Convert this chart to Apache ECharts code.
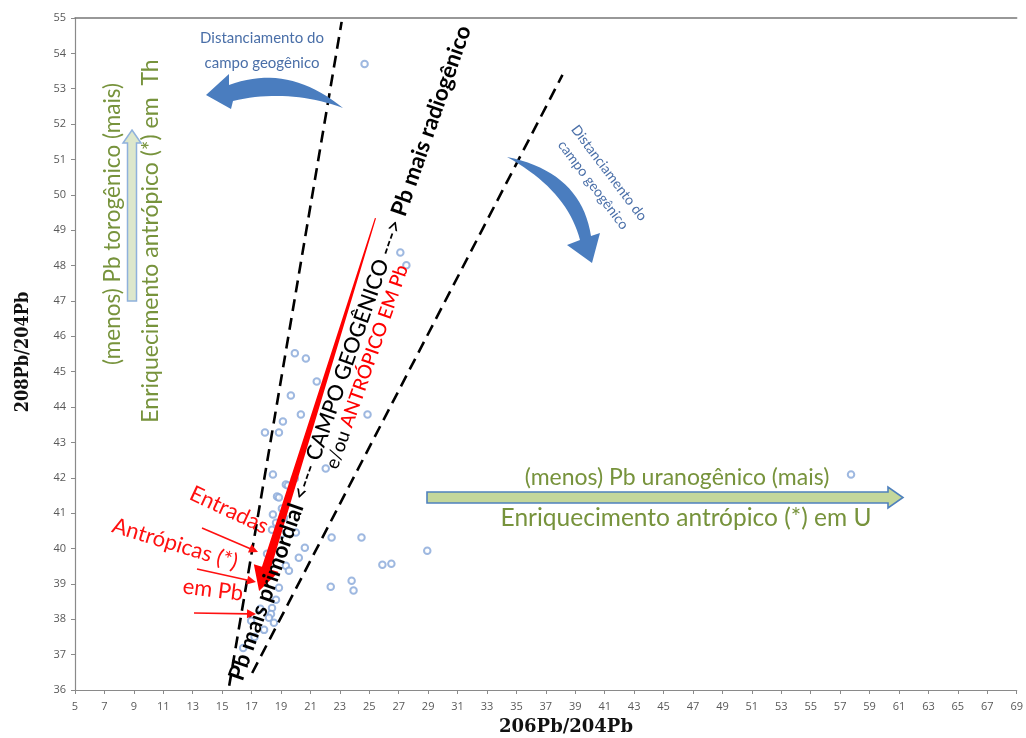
<!DOCTYPE html>
<html>
<head>
<meta charset="utf-8">
<script src="https://cdn.jsdelivr.net/npm/echarts@6/dist/echarts.min.js"></script>
<style>
html,body{margin:0;padding:0;background:#fff;}
#chart{width:1026px;height:738px;}
</style>
</head>
<body>
<div id="chart"></div>
<script>
// ---- data ----
const xTickMin = 5, xTickMax = 69, xTickStep = 2;
const yTickMin = 36, yTickMax = 55, yTickStep = 1;

// 206Pb/204Pb , 208Pb/204Pb samples
const samples = [
  [24.68,53.70],[27.11,48.37],[27.52,48.01],[19.94,45.52],[20.69,45.37],
  [21.43,44.72],[24.88,43.79],[19.67,44.33],[20.35,43.79],[19.13,43.59],
  [17.91,43.28],[18.86,43.28],[22.04,42.26],[18.45,42.09],[19.94,41.98],
  [19.33,41.81],[19.47,41.78],[18.73,41.47],[18.86,41.44],[19.06,41.13],
  [18.45,40.96],[19.20,40.87],[18.66,40.73],[18.39,40.53],[20.01,40.45],
  [19.06,40.42],[22.44,40.31],[24.47,40.31],[20.62,40.02],[18.05,39.85],
  [20.21,39.74],[18.25,39.71],[19.33,39.51],[19.54,39.37],[25.89,39.54],
  [26.50,39.57],[28.94,39.94],[23.80,39.09],[23.93,38.81],[22.38,38.92],
  [18.86,38.89],[18.66,38.55],[18.39,38.32],[18.32,38.15],[18.18,38.04],
  [18.52,37.90],[17.85,37.70],[16.97,37.96],[16.43,37.19],[57.74,42.09],
  [18.10,39.20],[17.60,38.30],[17.20,37.50]
];
// geogenic field boundaries (dashed)
const boundLeft  = [[15.48,36.12],[23.12,54.89]];
const boundRight = [[17.04,36.48],[38.13,53.39]];
// anthropic trend arrow: [x0,y0,x1,y1] (tail -> tip)
const redTrend = [[25.42,49.34,17.51,38.80]];

// ---- helpers ----
const FONT = 'Lato, "Open Sans", sans-serif';
function qbez(a, c, b, n) {
  const pts = [];
  for (let i = 0; i <= n; i++) {
    const t = i / n, u = 1 - t;
    pts.push([u*u*a[0] + 2*u*t*c[0] + t*t*b[0], u*u*a[1] + 2*u*t*c[1] + t*t*b[1]]);
  }
  return pts;
}
function thinArrow(x0, y0, x1, y1) {
  const dx = x1 - x0, dy = y1 - y0, L = Math.hypot(dx, dy);
  const ux = dx / L, uy = dy / L, nx = -uy, ny = ux;
  const hl = 9, hw = 4.5;
  const bx = x1 - ux*hl, by = y1 - uy*hl;
  return [
    {type:'line', shape:{x1:x0,y1:y0,x2:bx+ux*2,y2:by+uy*2}, style:{stroke:'#ff1010', lineWidth:1.6}, z:20},
    {type:'polygon', shape:{points:[[x1,y1],[bx+nx*hw,by+ny*hw],[bx-nx*hw,by-ny*hw]]}, style:{fill:'#ff1010'}, z:20}
  ];
}
const deg = Math.PI / 180;

// blue curved arrows (annotation shapes, pixel space)
const leftBlue = [].concat(
  [[206,95],[229,74],[229,85]],
  qbez([229,85],[288,63],[343,108],20).slice(1),
  qbez([343,108],[288,88],[233,101],20).slice(1),
  [[231,109]]
);
const rightBlue = [].concat(
  qbez([507,157],[581,172],[591,236],20),
  [[600,233],[592,263],[567,245]],
  qbez([580,240],[567,190],[507,157],20).slice(0,-1)
);

const graphics = [
  // top-left note
  {type:'text', x:262, y:51, style:{text:'Distanciamento do\ncampo geogênico', fill:'#4a6fa8', font:'15px ' + FONT, align:'center', verticalAlign:'middle', lineHeight:25}, z:10},
  {type:'polygon', shape:{points:leftBlue}, style:{fill:'#4a7dbf'}, z:10},
  // right note
  {type:'text', x:601, y:179, rotation:-53*deg, style:{text:'Distanciamento do\ncampo geogênico', fill:'#4a6fa8', font:'14px ' + FONT, align:'center', verticalAlign:'middle', lineHeight:20}, z:10},
  {type:'polygon', shape:{points:rightBlue}, style:{fill:'#4a7dbf'}, z:10},
  // main diagonal caption
  {type:'text', x:350, y:353, rotation:70.7*deg, style:{
      text:'{b|Pb mais primordial} <--- CAMPO GEOGÊNICO ---> {b|Pb mais radiogênico}',
      fill:'#000', font:'500 21.5px ' + FONT, align:'center', verticalAlign:'middle',
      rich:{b:{fontWeight:'bold', fontSize:22.5, fontFamily:FONT, fill:'#000'}}
    }, z:15},
  {type:'text', x:367, y:367, rotation:70.7*deg, style:{
      text:'e/ou {r|ANTRÓPICO EM Pb}',
      fill:'#000', font:'19px ' + FONT, align:'center', verticalAlign:'middle',
      rich:{r:{fill:'#ff0000', fontSize:19, fontWeight:500, fontFamily:FONT}}
    }, z:15},
  // left vertical (thorogenic)
  {type:'text', x:113, y:224, rotation:90*deg, style:{text:'(menos) Pb torogênico (mais)', fill:'#77933c', font:'22.5px ' + FONT, align:'center', verticalAlign:'middle'}, z:10},
  {type:'text', x:151, y:241, rotation:90*deg, style:{text:'Enriquecimento antrópico (*) em  Th', fill:'#77933c', font:'23px ' + FONT, align:'center', verticalAlign:'middle'}, z:10},
  {type:'polygon', shape:{points:[[132,130],[141,143],[136.5,143],[136.5,301],[127.5,301],[127.5,143],[123,143]]}, style:{fill:'#dde7cc', stroke:'#8fb1dc', lineWidth:1.5}, z:9},
  // horizontal (uranogenic)
  {type:'text', x:677, y:478, style:{text:'(menos) Pb uranogênico (mais)', fill:'#77933c', font:'23px ' + FONT, align:'center', verticalAlign:'middle'}, z:10},
  {type:'text', x:686, y:518, style:{text:'Enriquecimento antrópico (*) em U', fill:'#77933c', font:'24.5px ' + FONT, align:'center', verticalAlign:'middle'}, z:10},
  {type:'polygon', shape:{points:[[427,492],[888,492],[888,487],[903,497.5],[888,508],[888,503],[427,503]]}, style:{fill:'#c4d79b', stroke:'#4f81bd', lineWidth:1.6}, z:9},
  // red inputs
  {type:'text', x:229, y:510, rotation:-25*deg, style:{text:'Entradas', fill:'#ff1010', font:'22px ' + FONT, align:'center', verticalAlign:'middle'}, z:20},
  {type:'text', x:175, y:544, rotation:-17*deg, style:{text:'Antrópicas (*)', fill:'#ff1010', font:'22px ' + FONT, align:'center', verticalAlign:'middle'}, z:20},
  {type:'text', x:213, y:590, rotation:-7*deg, style:{text:'em Pb', fill:'#ff1010', font:'22px ' + FONT, align:'center', verticalAlign:'middle'}, z:20},
  // axis titles
  {type:'text', x:566, y:727, style:{text:'206Pb/204Pb', fill:'#111', font:'bold 18px "DejaVu Serif", serif', align:'center', verticalAlign:'middle'}, z:10},
  {type:'text', x:23, y:352, rotation:90*deg, style:{text:'208Pb/204Pb', fill:'#111', font:'bold 18px "DejaVu Serif Condensed", "DejaVu Serif", serif', align:'center', verticalAlign:'middle'}, z:10}
].concat(
  thinArrow(202,528,258,552),
  thinArrow(197,569,256,582),
  thinArrow(194,613,256,614)
);

const chart = echarts.init(document.getElementById('chart'), null, {renderer:'canvas'});
const axisGray = '#8a8a8a';
chart.setOption({
  animation:false,
  backgroundColor:'#fff',
  grid:{left:75, right:4, top:18, bottom:48, containLabel:false},
  xAxis:[{
    type:'value', min:xTickMin, max:xTickMax, interval:xTickStep,
    axisLine:{show:true, onZero:false, lineStyle:{color:axisGray, width:1.2}},
    axisTick:{show:true, length:4, lineStyle:{color:axisGray}},
    axisLabel:{color:'#595959', fontSize:11, fontFamily:'"Open Sans", sans-serif', margin:11, showMaxLabel:true},
    splitLine:{show:false}
  },{
    type:'value', position:'top', min:xTickMin, max:xTickMax,
    axisLine:{show:true, onZero:false, lineStyle:{color:'#777', width:1.5}},
    axisTick:{show:false}, axisLabel:{show:false}, splitLine:{show:false}
  }],
  yAxis:{
    type:'value', min:yTickMin, max:yTickMax, interval:yTickStep,
    axisLine:{show:true, onZero:false, lineStyle:{color:axisGray, width:1.2}},
    axisTick:{show:true, length:4, lineStyle:{color:axisGray}},
    axisLabel:{color:'#595959', fontSize:11, fontFamily:'"Open Sans", sans-serif', margin:9},
    splitLine:{show:false}
  },
  series:[
    {type:'scatter', data:samples, symbol:'emptyCircle', symbolSize:6.5,
     itemStyle:{color:'#86a6d8', borderColor:'#86a6d8', borderWidth:1.1}, z:5},
    {type:'line', data:boundLeft, symbol:'none', z:6,
     lineStyle:{color:'#000', width:2.6, type:[12,7]}},
    {type:'line', data:boundRight, symbol:'none', z:6,
     lineStyle:{color:'#000', width:2.6, type:[12,7]}},
    {type:'custom', data:redTrend, z:12,
     renderItem:function(params, api){
       const p0 = api.coord([api.value(0), api.value(1)]);
       const p1 = api.coord([api.value(2), api.value(3)]);
       const dx = p1[0]-p0[0], dy = p1[1]-p0[1], L = Math.hypot(dx, dy);
       const ux = dx/L, uy = dy/L, nx = -uy, ny = ux;
       const hl = 24, bx = p1[0]-ux*hl, by = p1[1]-uy*hl;
       const w0 = 0.6, w1 = 4.5, wh = 13;
       return {type:'polygon', shape:{points:[
         [p0[0]+nx*w0, p0[1]+ny*w0],
         [bx+nx*w1, by+ny*w1],
         [bx+nx*wh, by+ny*wh],
         [p1[0], p1[1]],
         [bx-nx*wh, by-ny*wh],
         [bx-nx*w1, by-ny*w1],
         [p0[0]-nx*w0, p0[1]-ny*w0]
       ]}, style:{fill:'#ff0000'}};
     }}
  ],
  graphic:graphics
});
</script>
</body>
</html>
